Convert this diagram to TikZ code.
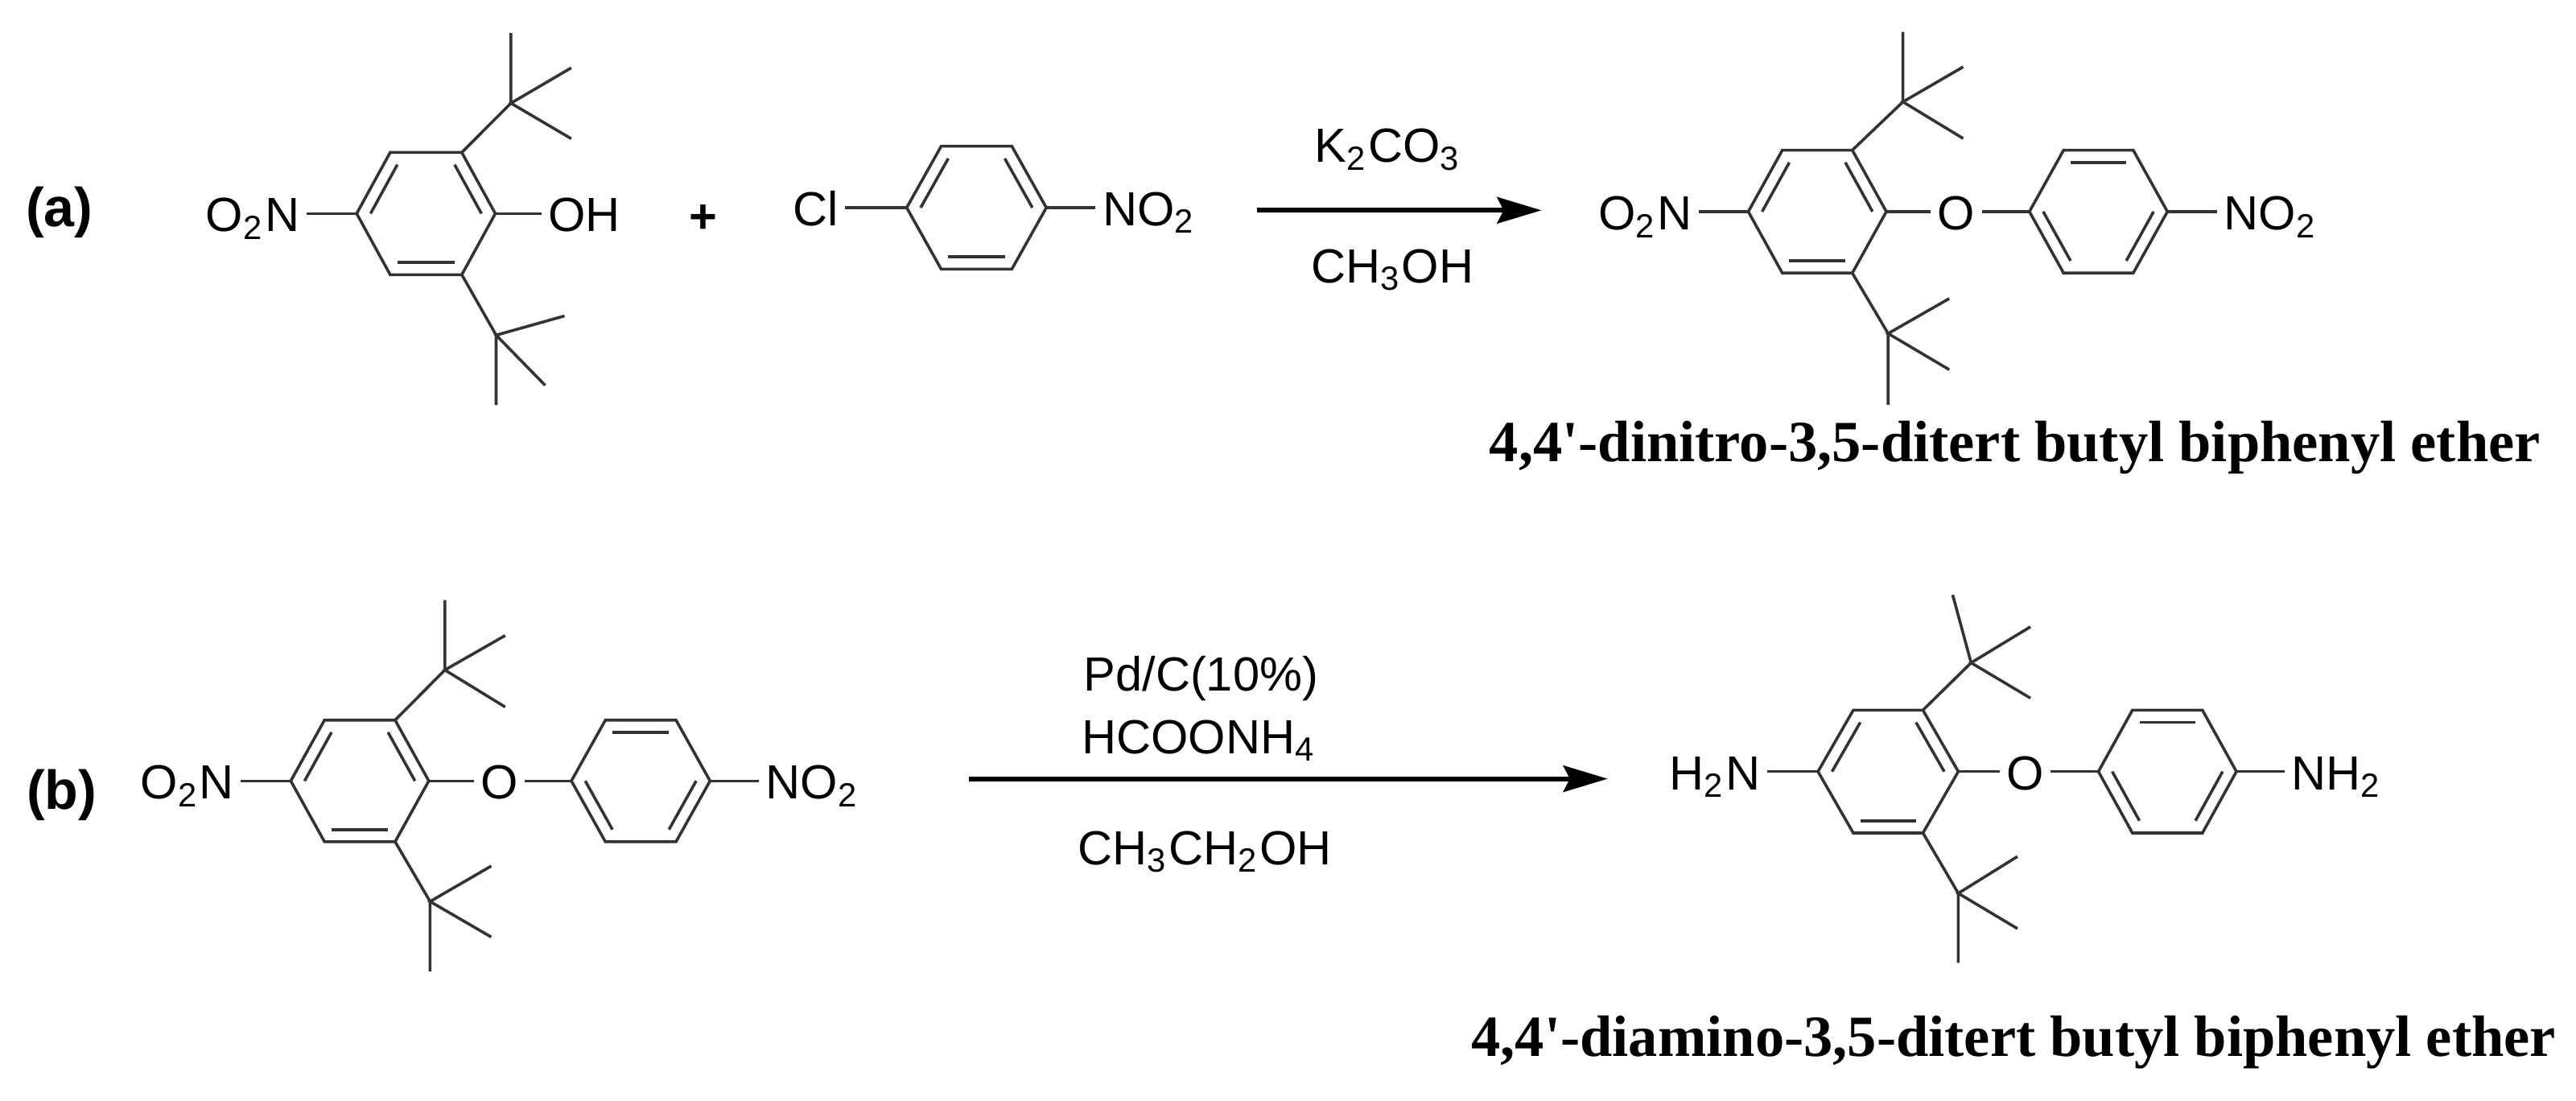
\documentclass[tikz,border=0pt]{standalone}
\usepackage{fontspec}
\newfontfamily\arialfont{Liberation Sans}
\newfontfamily\timesfont{Liberation Serif}
\usetikzlibrary{arrows.meta, calc}

\begin{document}
\begin{tikzpicture}[
    x=0.01cm, y=-0.01cm,
    bond/.style={line width=0.5pt, black!80},
    arrow/.style={-{Stealth[length=2.7mm, width=1.6mm, inset=0.4mm]}, line width=0.8pt},
    atom/.style={font=\fontsize{8.3}{10}\selectfont\arialfont, inner sep=1pt},
    tag/.style={font=\fontsize{9.5}{11}\selectfont\arialfont\bfseries, inner sep=0pt, anchor=base west},
    compound/.style={font=\fontsize{10.1}{12}\selectfont\timesfont\bfseries, inner sep=0pt, anchor=base}
]

\useasboundingbox (0,0) rectangle (1568,670);

% Benzene rings
\foreach \r/\cx/\cy/\hw/\kw/\hh in {
    A/259.3/130/42.2/21.8/37.2, B/594.4/126.4/42.5/21.5/37.4,
    C/1106.2/128.8/42/21.3/37.4, D/1277.3/128.8/42/21.2/37.4,
    E/219/475.3/42/21.5/37, F/390/475.3/42.2/21.5/37,
    G/1149.3/469.6/42.7/21.2/37.4, H/1319.3/469.6/42/21.3/37.4} {
    \coordinate (\r-c) at (\cx,\cy);
    \coordinate (\r-w) at (\cx-\hw,\cy);
    \coordinate (\r-e) at (\cx+\hw,\cy);
    \coordinate (\r-nw) at (\cx-\kw,\cy-\hh);
    \coordinate (\r-ne) at (\cx+\kw,\cy-\hh);
    \coordinate (\r-sw) at (\cx-\kw,\cy+\hh);
    \coordinate (\r-se) at (\cx+\kw,\cy+\hh);
    \draw[bond] (\r-w) -- (\r-nw) -- (\r-ne) -- (\r-e) -- (\r-se) -- (\r-sw) -- cycle;
}

% Inner double bonds
\foreach \r in {A,B,C,E,G} {
    \foreach \p/\q in {w/nw, ne/e, sw/se} {
        \draw[bond] ($(\r-c)!0.8!(\r-\p)$) -- ($(\r-c)!0.8!(\r-\q)$);
    }
}
\foreach \r in {D,F,H} {
    \foreach \p/\q in {nw/ne, e/se, sw/w} {
        \draw[bond] ($(\r-c)!0.8!(\r-\p)$) -- ($(\r-c)!0.8!(\r-\q)$);
    }
}

% tert-butyl groups
\foreach \t/\v/\cx/\cy/\ux/\uy/\ax/\ay/\bx/\by in {
    p/A-ne/311/62.8/311/20/347.7/41.3/347.7/84.4,
    q/A-se/302/204/302/246.6/343.6/192.3/331.8/234.5,
    r/C-ne/1158.3/62/1158.3/19.4/1195/40.7/1195/84.3,
    s/C-se/1149.3/203/1149.3/246.4/1186.5/181.7/1186.5/225,
    t/E-ne/270.8/407.8/270.8/365.3/307.5/386.8/307.5/430.3,
    u/E-se/261.8/548.7/261.8/591.2/299/527.1/299/570.3,
    v/G-ne/1199.8/403.4/1188.6/362.1/1235.9/381.5/1235.9/424.9,
    w/G-se/1192/543.7/1192/586/1228/521.3/1228/565.2} {
    \coordinate (\t-c) at (\cx,\cy);
    \coordinate (\t-u) at (\ux,\uy);
    \coordinate (\t-a) at (\ax,\ay);
    \coordinate (\t-b) at (\bx,\by);
    \draw[bond] (\v) -- (\t-c) -- (\t-u);
    \draw[bond] (\t-a) -- (\t-c) -- (\t-b);
}

% Row (a)
\node[tag] (taga) at (15,138) {(a)};
\node[atom, anchor=base east] (nitroA) at (186.5,141) {O\textsubscript{2}N};
\node[atom, anchor=base west] (hydroxyl) at (329.6,141) {OH};
\node[atom, anchor=base, font=\fontsize{8.3}{10}\selectfont\arialfont\bfseries] (plus) at (428,142) {+};
\node[atom, anchor=base east] (chloro) at (514.4,137.4) {Cl};
\node[atom, anchor=base west] (nitroB) at (666.9,137.4) {NO\textsubscript{2}};
\draw[bond] (nitroA.east |- A-w) -- (A-w);
\draw[bond] (A-e) -- (hydroxyl.west |- A-e);
\draw[bond] (chloro.east |- B-w) -- (B-w);
\draw[bond] (B-e) -- (nitroB.west |- B-e);

% Reaction arrow (a)
\coordinate (startA) at (765,128);
\coordinate (endA) at (938.3,128);
\draw[arrow] (startA) -- (endA);
\node[atom, anchor=base] (carbonate) at (845,98.8) {K\textsubscript{2}CO\textsubscript{3}};
\node[atom, anchor=base] (methanol) at (847.5,172) {CH\textsubscript{3}OH};

% Product (a)
\node[atom, anchor=base east] (nitroC) at (1034,140) {O\textsubscript{2}N};
\node[atom, anchor=base] (etherA) at (1190.7,140) {O};
\node[atom, anchor=base west] (nitroD) at (1349.6,140) {NO\textsubscript{2}};
\draw[bond] (nitroC.east |- C-w) -- (C-w);
\draw[bond] (C-e) -- (etherA.west |- C-e);
\draw[bond] (etherA.east |- D-w) -- (D-w);
\draw[bond] (D-e) -- (nitroD.west |- D-e);
\node[compound] (nameA) at (1226.5,280.9) {4,4'-dinitro-3,5-ditert butyl biphenyl ether};

% Row (b)
\node[tag] (tagb) at (15.5,492.7) {(b)};
\node[atom, anchor=base east] (nitroE) at (146.7,486.3) {O\textsubscript{2}N};
\node[atom, anchor=base] (etherB) at (304,486.3) {O};
\node[atom, anchor=base west] (nitroF) at (462,486.3) {NO\textsubscript{2}};
\draw[bond] (nitroE.east |- E-w) -- (E-w);
\draw[bond] (E-e) -- (etherB.west |- E-e);
\draw[bond] (etherB.east |- F-w) -- (F-w);
\draw[bond] (F-e) -- (nitroF.west |- F-e);

% Reaction arrow (b)
\coordinate (startB) at (590,474);
\coordinate (endB) at (978.6,474);
\draw[arrow] (startB) -- (endB);
\node[atom, anchor=base] (catalyst) at (731,420.5) {Pd/C(10\%)};
\node[atom, anchor=base] (formate) at (730,458.7) {HCOONH\textsubscript{4}};
\node[atom, anchor=base] (ethanol) at (733.5,526.1) {CH\textsubscript{3}CH\textsubscript{2}OH};

% Product (b)
\node[atom, anchor=base east] (amineG) at (1075.7,480.6) {H\textsubscript{2}N};
\node[atom, anchor=base] (etherC) at (1232.6,480.6) {O};
\node[atom, anchor=base west] (amineH) at (1390.8,480.6) {NH\textsubscript{2}};
\draw[bond] (amineG.east |- G-w) -- (G-w);
\draw[bond] (G-e) -- (etherC.west |- G-e);
\draw[bond] (etherC.east |- H-w) -- (H-w);
\draw[bond] (H-e) -- (amineH.west |- H-e);
\node[compound] (nameB) at (1225.7,642.8) {4,4'-diamino-3,5-ditert butyl biphenyl ether};

\end{tikzpicture}
\end{document}
